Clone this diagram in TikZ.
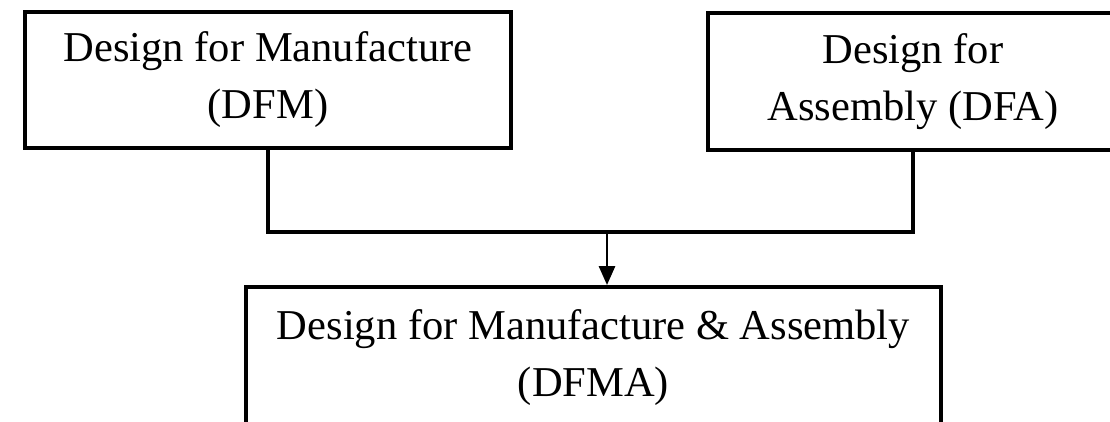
\documentclass[tikz,border=0pt]{standalone}
\usepackage{fontspec}
\setmainfont{Liberation Serif}
\usetikzlibrary{arrows.meta}
\tikzset{
  blockbox/.style={draw, line width=2.2pt, align=center, inner sep=0pt,
    font=\fontsize{24.2}{32.4}\selectfont},
  joinline/.style={line width=2pt},
}
\begin{document}
\begin{tikzpicture}[line join=miter]
  \useasboundingbox (0,0) rectangle (22.20,8.44);
  \node[blockbox, minimum width=9.72cm, minimum height=2.72cm] (dfm) at (5.36,6.84) {Design for Manufacture\\(DFM)};
  \node[blockbox, minimum width=8.20cm, minimum height=2.74cm] (dfa) at (18.26,6.81) {Design for\\Assembly (DFA)};
  \node[blockbox, minimum width=13.90cm, minimum height=2.82cm] (dfma) at (11.87,1.29) {Design for Manufacture \& Assembly\\(DFMA)};
  \coordinate (split) at (12.14,3.80);
  \draw[joinline] (dfm.south) |- (split) -| (dfa.south);
  \draw[line width=1.6pt, -{Triangle[length=0.38cm, width=0.32cm]}] (split) -- (dfma.north -| split);
\end{tikzpicture}
\end{document}
